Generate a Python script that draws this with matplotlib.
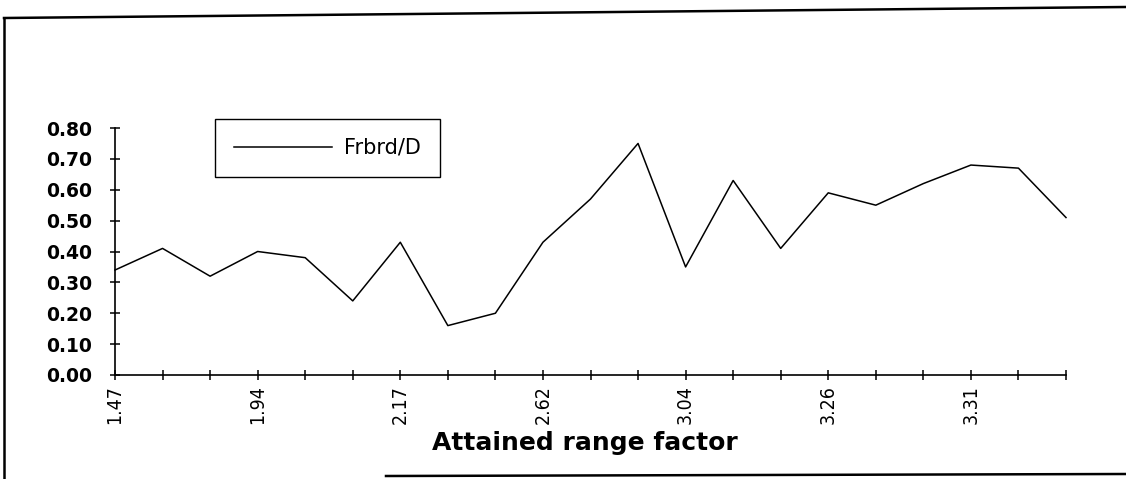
import matplotlib.pyplot as plt
from matplotlib.lines import Line2D
import numpy as np

# ------------------------------------------------------------------- #
# Frbrd/D against attained range factor (21 samples, every 3rd labelled)
# ------------------------------------------------------------------- #

frbrd_d = [0.34, 0.41, 0.32, 0.40, 0.38, 0.24, 0.43, 0.16, 0.20, 0.43, 0.57,
           0.75, 0.35, 0.63, 0.41, 0.59, 0.55, 0.62, 0.68, 0.67, 0.51]
tick_labels = ['1.47', '1.94', '2.17', '2.62', '3.04', '3.26', '3.31']
label_step = 3
y_ticks = [0.0, 0.1, 0.2, 0.3, 0.4, 0.5, 0.6, 0.7, 0.8]

W, H = 1126, 479
fig = plt.figure(figsize=(W / 100, H / 100), dpi=100)
ax = fig.add_axes([115 / W, 1 - 375 / H, 951 / W, 247 / H])

x = np.arange(len(frbrd_d))
ax.plot(x, frbrd_d, color='black', lw=1.1, label='Frbrd/D', clip_on=False)

ax.set_xlim(0, len(frbrd_d) - 1)
ax.set_ylim(0, 0.8)
ax.set_xticks(x)
labels = [''] * len(x)
for i, t in enumerate(tick_labels):
    labels[i * label_step] = t
ax.set_xticklabels(labels, rotation=90, fontsize=14, family='DejaVu Sans',
                   fontstretch='condensed')
ax.set_yticks(y_ticks)
ax.set_yticklabels(['%.2f' % v for v in y_ticks], fontsize=13.5,
                   fontweight='bold', family='DejaVu Sans')
ax.tick_params(axis='both', direction='inout', length=7, width=1.1, color='black')
ax.tick_params(axis='x', pad=4)
ax.tick_params(axis='y', pad=13)

for s in ['top', 'right']:
    ax.spines[s].set_visible(False)
for s in ['left', 'bottom']:
    ax.spines[s].set_linewidth(1.2)

fig.text(585 / W, 1 - 443 / H, 'Attained range factor', ha='center', va='center',
         fontsize=18, fontweight='bold', family='DejaVu Sans')

leg = ax.legend(loc='upper left', bbox_to_anchor=(0.105, 1.036), fancybox=False,
                edgecolor='black', framealpha=1, handlelength=4.7, borderpad=0.9,
                handletextpad=0.6, borderaxespad=0,
                prop={'family': 'DejaVu Sans', 'size': 15})
leg.get_frame().set_linewidth(1.0)

# scanned page frame
fig.add_artist(Line2D([4 / W, 4 / W], [1 - 18 / H, 0], color='black', lw=1.8,
                      transform=fig.transFigure))
fig.add_artist(Line2D([4 / W, 1], [1 - 18 / H, 1 - 7 / H], color='black', lw=1.8,
                      transform=fig.transFigure))
fig.add_artist(Line2D([386 / W, 1], [1 - 476 / H, 1 - 474 / H], color='black', lw=1.8,
                      transform=fig.transFigure))

fig.savefig('out.png', dpi=100, facecolor='white')
